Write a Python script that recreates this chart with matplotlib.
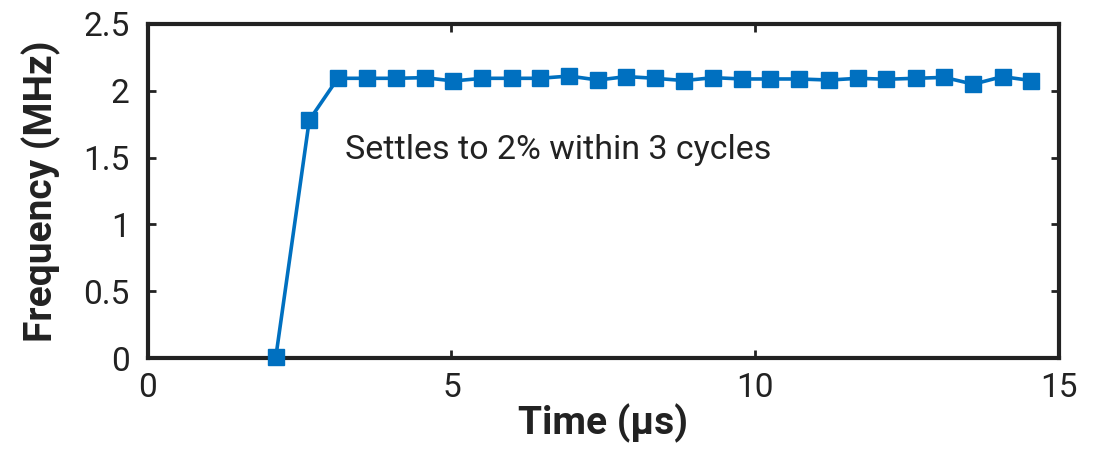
import matplotlib
matplotlib.use('Agg')
import matplotlib.pyplot as plt

# 读数：时间(µs) 与 频率(MHz)
time_us = [2.11, 2.66, 3.13, 3.61, 4.08, 4.56, 5.03, 5.51, 5.99, 6.45,
           6.94, 7.41, 7.88, 8.35, 8.83, 9.31, 9.78, 10.25, 10.72, 11.22,
           11.69, 12.16, 12.64, 13.11, 13.59, 14.07, 14.54]
freq_mhz = [0.01, 1.78, 2.093, 2.093, 2.093, 2.098, 2.073, 2.093, 2.093, 2.093,
            2.11, 2.08, 2.106, 2.093, 2.076, 2.098, 2.088, 2.088, 2.088, 2.08,
            2.093, 2.086, 2.093, 2.10, 2.049, 2.106, 2.076]
x_ticks = [0, 5, 10, 15]
y_ticks = [0, 0.5, 1, 1.5, 2, 2.5]
y_tick_labels = ['0', '0.5', '1', '1.5', '2', '2.5']
note = 'Settles to 2% within 3 cycles'

plt.rcParams['font.family'] = ['Roboto', 'DejaVu Sans']
blue = '#0070C0'
dark = '#222222'

fig = plt.figure(figsize=(11.02, 4.51), dpi=100)
ax = fig.add_axes([0.134, 0.206, 0.827, 0.741])

ax.plot(time_us, freq_mhz, color=blue, lw=2.6, marker='s', ms=12,
        markeredgecolor=blue, clip_on=False, zorder=3)

ax.set_xlim(0, 15)
ax.set_ylim(0, 2.5)
ax.set_xticks(x_ticks)
ax.set_yticks(y_ticks)
ax.set_yticklabels(y_tick_labels)
ax.tick_params(direction='in', length=6, width=2, color=dark,
               top=True, right=True, labelsize=24, labelcolor=dark)
ax.tick_params(axis='y', pad=13)
ax.tick_params(axis='x', pad=10)

for sp in ax.spines.values():
    sp.set_linewidth(3)
    sp.set_color(dark)

ax.set_xlabel('Time (µs)', fontsize=28, fontweight='bold', color=dark, labelpad=0)
ax.set_ylabel('Frequency (MHz)', fontsize=28, fontweight='bold', color=dark, labelpad=16)

ax.text(3.24, 1.56, note, fontsize=24.5, color=dark, va='center', ha='left')

fig.savefig('out.png', dpi=100)
